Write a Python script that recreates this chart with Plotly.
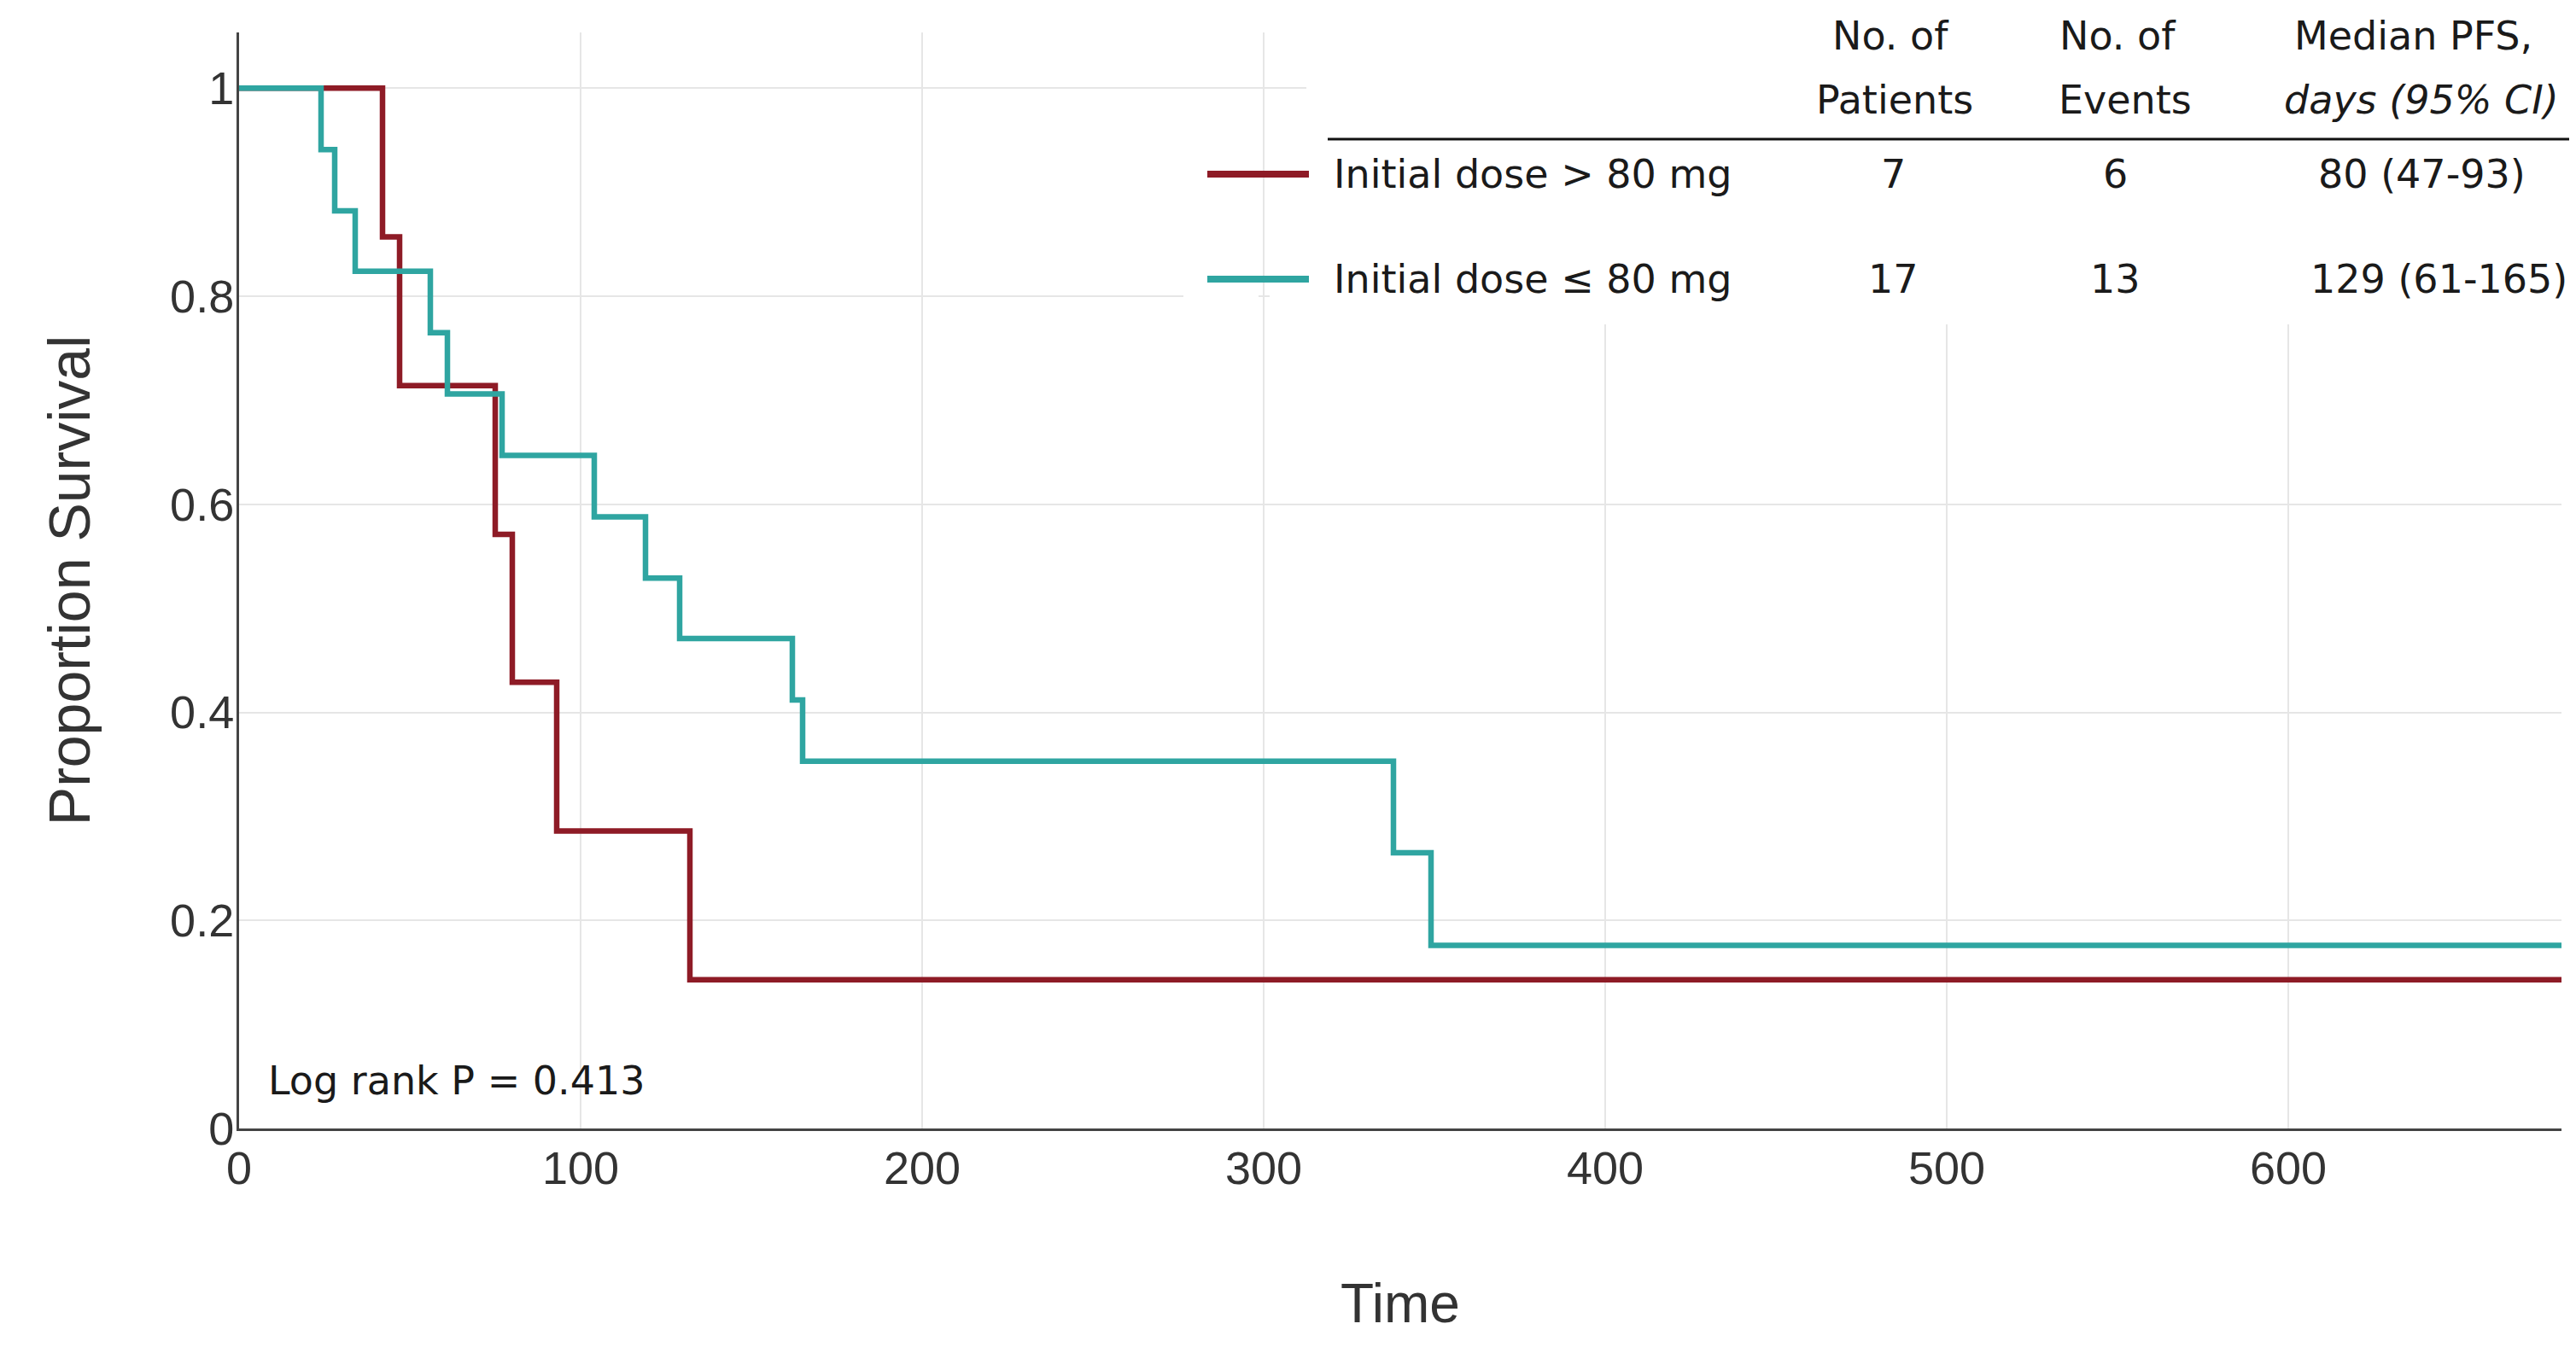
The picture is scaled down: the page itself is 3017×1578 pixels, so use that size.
import plotly.graph_objects as go

# ---- data ----
high_time = [0, 42, 47, 75, 80, 93, 132, 680]
high_surv = [1.0, 0.857, 0.714, 0.571, 0.429, 0.286, 0.143, 0.143]

low_time = [0, 24, 28, 34, 56, 61, 77, 104, 119, 129, 162, 165, 338, 349, 680]
low_surv = [1.0, 0.941, 0.882, 0.824, 0.765, 0.706, 0.647, 0.588, 0.529, 0.471,
            0.412, 0.353, 0.265, 0.176, 0.176]

group_labels = ["Initial dose > 80 mg", "Initial dose ≤ 80 mg"]
n_patients = ["7", "17"]
n_events = ["6", "13"]
median_pfs = ["80 (47-93)", "129 (61-165)"]
x_ticks = [0, 100, 200, 300, 400, 500, 600]
y_ticks = [0, 0.2, 0.4, 0.6, 0.8, 1]
y_tick_text = ["0", "0.2", "0.4", "0.6", "0.8", "1"]
logrank_text = "Log rank P = 0.413"
x_title = "Time"
y_title = "Proportion Survival"

RED = "#8E1B26"
TEAL = "#2FA5A1"

# ---- layout geometry ----
# the page body has an 8px margin, so the figure is offset by (8, 8)
OFF = 8
W, H = 3009, 1562
PL, PR, PT, PB = 280, 3000, 38, 1322   # plot area in page pixels
L, R, T, B = PL - OFF, PR - OFF, PT - OFF, PB - OFF
X_MAX = 680
Y_MAX = (PB - PT) / 1218.7


def px(x):
    """page pixel x -> paper"""
    return (x - PL) / (PR - PL)


def py(y):
    """page pixel y -> paper"""
    return (PB - y) / (PB - PT)


fig = go.Figure()
fig.add_trace(go.Scatter(x=high_time, y=high_surv, mode="lines", line_shape="hv",
                         line=dict(color=RED, width=6.5), name=group_labels[0],
                         showlegend=False))
fig.add_trace(go.Scatter(x=low_time, y=low_surv, mode="lines", line_shape="hv",
                         line=dict(color=TEAL, width=6.5), name=group_labels[1],
                         showlegend=False))

TXT = dict(family="DejaVu Sans", size=46, color="#1a1a1a")
shapes = []
# white background behind the table
shapes.append(dict(type="rect", xref="paper", yref="paper", x0=px(1530), x1=px(3030),
                   y0=py(380), y1=py(0), fillcolor="white", line=dict(width=0), layer="above"))
shapes.append(dict(type="rect", xref="paper", yref="paper", x0=px(1386), x1=px(1474),
                   y0=py(365), y1=py(325), fillcolor="white", line=dict(width=0), layer="above"))
shapes.append(dict(type="rect", xref="paper", yref="paper", x0=px(1487), x1=px(1530),
                   y0=py(365), y1=py(325), fillcolor="white", line=dict(width=0), layer="above"))
# header rule
shapes.append(dict(type="line", xref="paper", yref="paper", x0=px(1555), x1=px(3030),
                   y0=py(163), y1=py(163), line=dict(color="#111", width=3), layer="above"))
# legend samples
row_y = [204, 327]
for ry, col in zip(row_y, [RED, TEAL]):
    shapes.append(dict(type="line", xref="paper", yref="paper", x0=px(1414), x1=px(1533),
                       y0=py(ry), y1=py(ry), line=dict(color=col, width=8), layer="above"))

ann = []


def add_text(text, x, y, anchor="center", font=TXT):
    ann.append(dict(text=text, x=px(x), y=py(y), xref="paper", yref="paper",
                    xanchor=anchor, yanchor="middle", showarrow=False, font=font))


add_text("No. of", 2214, 42)
add_text("Patients", 2219, 117)
add_text("No. of", 2480, 42)
add_text("Events", 2489, 117)
add_text("Median PFS,", 2826, 42)
add_text("<i>days (95% CI)</i>", 2836, 117)
pfs_x = [2836, 2856]
for i, ry in enumerate(row_y):
    add_text(group_labels[i], 1560, ry, anchor="left")
    add_text(n_patients[i], 2217, ry)
    add_text(n_events[i], 2477, ry)
    add_text(median_pfs[i], pfs_x[i], ry)
add_text(logrank_text, 312, 1266, anchor="left")
add_text(x_title, 1640, 1527,
         font=dict(family="Liberation Sans, Arial, sans-serif", size=64, color="#333"))

AX = dict(family="Liberation Sans, Arial, sans-serif", size=54, color="#333")
fig.update_layout(
    width=W, height=H,
    margin=dict(l=L, r=W - R, t=T, b=H - B, autoexpand=False),
    paper_bgcolor="white", plot_bgcolor="white",
    shapes=shapes, annotations=ann,
    xaxis=dict(range=[0, X_MAX], tickvals=x_ticks, showgrid=True, gridcolor="#e6e6e6",
               gridwidth=2, showline=True, linecolor="#444", linewidth=3, zeroline=False,
               ticks="", tickfont=AX, ticklabelstandoff=-3),
    yaxis=dict(range=[0, Y_MAX], tickvals=y_ticks, ticktext=y_tick_text, showgrid=True,
               gridcolor="#e6e6e6", gridwidth=2, showline=True, linecolor="#444", linewidth=3,
               zeroline=False, ticks="", tickfont=AX, ticklabelstandoff=-8,
               title=dict(text=y_title,
                          font=dict(family="Liberation Sans, Arial, sans-serif", size=68,
                                    color="#333"), standoff=72)),
)
fig.write_html("out.html")
